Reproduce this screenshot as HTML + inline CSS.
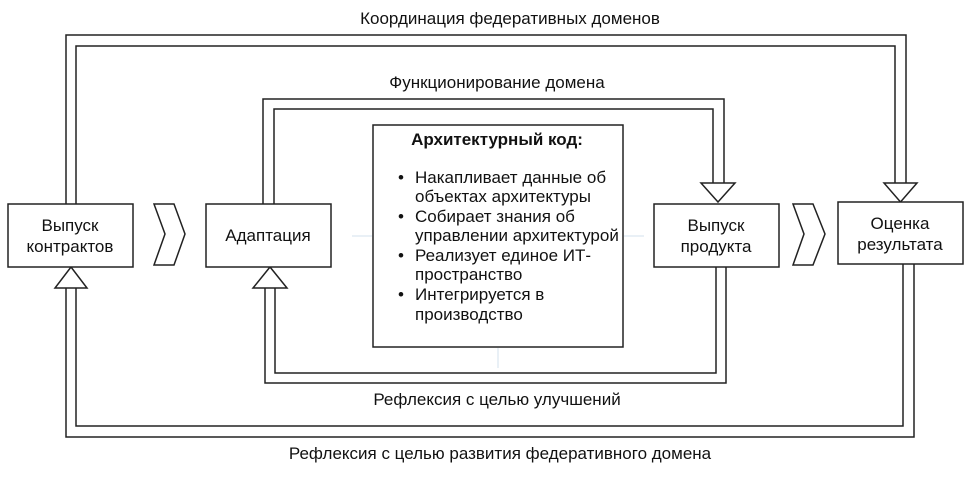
<!DOCTYPE html>
<html><head><meta charset="utf-8"><style>
html,body{margin:0;padding:0;background:#fff;}
svg{display:block;}
text{font-family:"Liberation Sans",Arial,sans-serif;fill:#111;}
</style></head><body>
<svg width="975" height="482" viewBox="0 0 975 482" xmlns="http://www.w3.org/2000/svg">
<g fill="none" stroke="#222" stroke-width="1.5">
<polyline points="66,204 66,35 906,35 906,183"/>
<polyline points="76,204 76,46 895,46 895,183"/>
<polygon points="884,183 917,183 900.5,202" fill="#fff"/>
<polyline points="263,204 263,99 724,99 724,183"/>
<polyline points="274,204 274,109 713,109 713,183"/>
<polygon points="701,183 735,183 718,202" fill="#fff"/>
<polyline points="726,267 726,383 265,383 265,288"/>
<polyline points="716,267 716,373 275,373 275,288"/>
<polygon points="253,288 287,288 270,267" fill="#fff"/>
<polyline points="914,264 914,437 66,437 66,288"/>
<polyline points="903,264 903,426 76,426 76,288"/>
<polygon points="55,288 87,288 71,267" fill="#fff"/>
<rect x="8" y="204" width="125" height="63" fill="#fff"/>
<rect x="206" y="204" width="125" height="63" fill="#fff"/>
<rect x="654" y="204" width="125" height="63" fill="#fff"/>
<rect x="838" y="202" width="125" height="62" fill="#fff"/>
<rect x="373" y="125" width="250" height="222" fill="#fff"/>
<polygon points="154,204 174,204 185,234 174,265 154,265 165,234"/>
<polygon points="793,204 813,204 825,234 813,265 793,265 804,234"/>
</g>
<g stroke="#d3e2ee" stroke-width="1" fill="none">
<line x1="352" y1="236" x2="372" y2="236"/><line x1="624" y1="236" x2="644" y2="236"/>
<line x1="498" y1="348" x2="498" y2="368"/>
</g>
<g font-size="17" text-anchor="middle">
<text x="510" y="24">Координация федеративных доменов</text>
<text x="497" y="88">Функционирование домена</text>
<text x="497" y="405">Рефлексия с целью улучшений</text>
<text x="500" y="459">Рефлексия с целью развития федеративного домена</text>
<text x="70" y="231">Выпуск</text>
<text x="70" y="252">контрактов</text>
<text x="268" y="241">Адаптация</text>
<text x="716" y="231">Выпуск</text>
<text x="716" y="252">продукта</text>
<text x="900" y="229">Оценка</text>
<text x="900" y="250">результата</text>
<text x="497" y="145" font-weight="bold">Архитектурный код:</text>
</g>
<g font-size="17">
<text x="398" y="183">•</text><text x="415" y="183">Накапливает данные об</text>
<text x="415" y="202">объектах архитектуры</text>
<text x="398" y="222">•</text><text x="415" y="222">Собирает знания об</text>
<text x="415" y="241">управлении архитектурой</text>
<text x="398" y="261">•</text><text x="415" y="261">Реализует единое ИТ-</text>
<text x="415" y="280">пространство</text>
<text x="398" y="300">•</text><text x="415" y="300">Интегрируется в</text>
<text x="415" y="320">производство</text>
</g>
</svg>
</body></html>
